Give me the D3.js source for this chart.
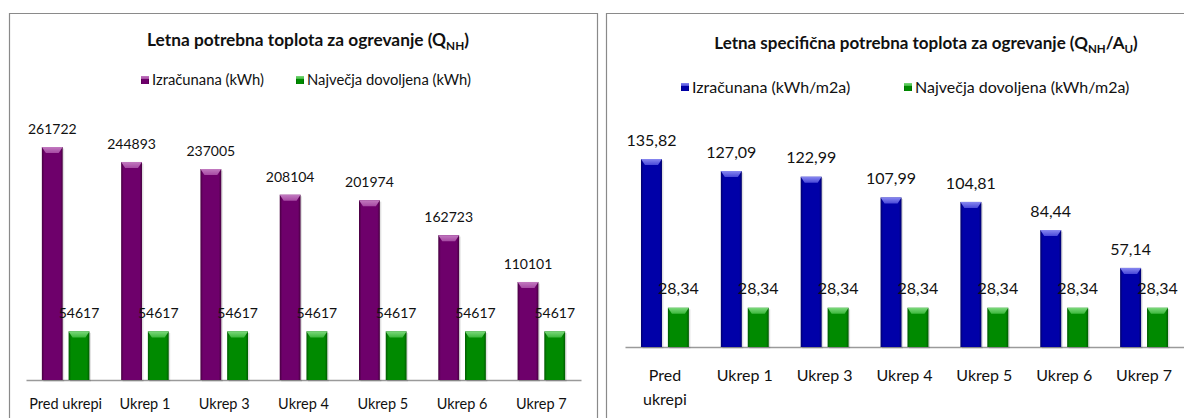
<!DOCTYPE html>
<html><head><meta charset="utf-8">
<script src="https://cdn.jsdelivr.net/npm/d3@7"></script>
<style>body{margin:0;background:#fff;} svg{display:block;font-family:Lato,'Open Sans',sans-serif;}</style>
</head><body><svg id="c" width="1184" height="418"></svg>
<script>
// ---- data ----
const categories = ["Pred ukrepi", "Ukrep 1", "Ukrep 3", "Ukrep 4", "Ukrep 5", "Ukrep 6", "Ukrep 7"];
const izracunanaKWh = [261722, 244893, 237005, 208104, 201974, 162723, 110101];
const najvecjaKWh = [54617, 54617, 54617, 54617, 54617, 54617, 54617];
const izracunanaSpec = [135.82, 127.09, 122.99, 107.99, 104.81, 84.44, 57.14];
const najvecjaSpec = [28.34, 28.34, 28.34, 28.34, 28.34, 28.34, 28.34];
const seriesNamesLeft = ["Izračunana (kWh)", "Največja dovoljena (kWh)"];
const seriesNamesRight = ["Izračunana (kWh/m2a)", "Največja dovoljena (kWh/m2a)"];

const svg = d3.select("#c");
const defs = svg.append("defs");

const palettes = {
  purple: {edge:"#46003f", mid:"#6e006b", bevel:"#a64aa3", bevelTop:"#c27ac0"},
  green:  {edge:"#005a00", mid:"#008a00", bevel:"#3cb83c", bevelTop:"#7cd87c"},
  blue:   {edge:"#00006a", mid:"#0000a8", bevel:"#4848d8", bevelTop:"#8888f0"}
};
Object.entries(palettes).forEach(([k,p])=>{
  const g = defs.append("linearGradient").attr("id","g-"+k).attr("x1",0).attr("x2",1).attr("y1",0).attr("y2",0);
  g.append("stop").attr("offset","0%").attr("stop-color",p.edge);
  g.append("stop").attr("offset","12%").attr("stop-color",p.mid);
  g.append("stop").attr("offset","88%").attr("stop-color",p.mid);
  g.append("stop").attr("offset","100%").attr("stop-color",p.edge);
  const b = defs.append("linearGradient").attr("id","b-"+k).attr("x1",0).attr("x2",0).attr("y1",0).attr("y2",1);
  b.append("stop").attr("offset","0%").attr("stop-color",p.bevelTop);
  b.append("stop").attr("offset","100%").attr("stop-color",p.bevel);
});

function fmtLeft(v){ return String(v); }
function fmtRight(v){ return v.toFixed(2).replace(".", ","); }

function drawPanel(cfg){
  const g = svg.append("g");
  // frame
  g.append("path").attr("d", cfg.frame).attr("fill","none").attr("stroke","#8a8a8a").attr("stroke-width",1.2);
  // title
  const t = g.append("text").attr("x",cfg.titleX).attr("y",cfg.titleY).attr("dy","0.35em").attr("text-anchor","middle")
    .attr("font-weight","bold").attr("font-size",cfg.titleSize).attr("fill","#111");
  cfg.titleParts.forEach(p=>{
    const ts = t.append("tspan").text(p.t);
    if(p.sub){ ts.attr("font-size",cfg.titleSize*0.68).attr("dy",4); }
    else if(p.after){ ts.attr("dy",-4); }
  });
  // legend
  const lg = g.append("g");
  cfg.legend.forEach((L,i)=>{
    lg.append("rect").attr("x",L.x).attr("y",cfg.legendY-4).attr("width",8).attr("height",8).attr("fill",`url(#g-${L.pal})`);
    lg.append("rect").attr("x",L.x).attr("y",cfg.legendY-4).attr("width",8).attr("height",3).attr("fill",`url(#b-${L.pal})`);
    lg.append("text").attr("x",L.x+11).attr("y",cfg.legendY).attr("dy","0.35em").attr("font-size",cfg.legendSize).attr("fill","#111").text(L.name);
  });
  // scales
  const x = d3.scaleBand().domain(categories).range(cfg.xRange);
  const xs = d3.scaleBand().domain([0,1]).range([x.bandwidth()*0.2, x.bandwidth()*0.8]).paddingInner(0.22);
  const y = d3.scaleLinear().domain(cfg.yDomain).range(cfg.yRange);
  // axis
  const ax = g.append("g").attr("transform",`translate(0,${cfg.yRange[0]})`).call(d3.axisBottom(x).tickSize(0).tickPadding(0));
  ax.select(".domain").attr("stroke","#9a9a9a").attr("stroke-width",1.3);
  ax.selectAll(".tick text").remove();
  // category labels
  categories.forEach(c=>{
    const lbl = g.append("text").attr("x",x(c)+x.bandwidth()/2).attr("y",cfg.catY).attr("text-anchor","middle")
      .attr("font-size",cfg.catSize).attr("fill","#111").attr("dy","0.35em").text(c);
    if(lbl.node().getComputedTextLength() > cfg.wrapWidth){
      const words = c.split(" ");
      lbl.text(null);
      words.forEach((w,i)=> lbl.append("tspan").attr("x",x(c)+x.bandwidth()/2).attr("dy", i===0?"0.35em":cfg.lineH).text(w));
    }
  });
  // bars
  cfg.series.forEach((s,si)=>{
    const bars = g.append("g");
    s.values.forEach((v,i)=>{
      const bx = x(categories[i]) + xs(si), bw = xs.bandwidth();
      const by = y(v), bh = y(0)-y(v);
      bars.append("rect").attr("x",bx+1.5).attr("y",by+1.5).attr("width",bw).attr("height",bh).attr("fill","#000").attr("opacity",0.12);
      bars.append("rect").attr("x",bx).attr("y",by).attr("width",bw).attr("height",bh).attr("fill",`url(#g-${s.pal})`);
      bars.append("path").attr("d",`M${bx},${by}L${bx+bw},${by}L${bx+bw-4},${by+6}L${bx+4},${by+6}Z`).attr("fill",`url(#b-${s.pal})`);
      g.append("text").attr("x",bx+bw/2).attr("y",by-cfg.labelOff).attr("text-anchor","middle").attr("dy","0.35em")
        .attr("font-size",cfg.valSize).attr("fill","#111").text(cfg.fmt(v));
    });
  });
}

drawPanel({
  frame:"M9.5,430V13.5H597.5V430",
  titleX:308, titleY:40, titleSize:17.3,
  titleParts:[{t:"Letna potrebna toplota za ogrevanje (Q"},{t:"NH",sub:true},{t:")",after:true}],
  legendY:80, legendSize:14.8,
  legend:[{x:141,pal:"purple",name:seriesNamesLeft[0]},{x:296,pal:"green",name:seriesNamesLeft[1]}],
  xRange:[26,581], yDomain:[0,300000], yRange:[380, 380-300000*233/261722],
  catY:404, catSize:14.5, wrapWidth:200, lineH:"1.55em",
  valSize:14, labelOff:18, fmt:fmtLeft,
  series:[{values:izracunanaKWh,pal:"purple"},{values:najvecjaKWh,pal:"green"}]
});
drawPanel({
  frame:"M606.5,430V13.5H1200",
  titleX:926, titleY:43, titleSize:17,
  titleParts:[{t:"Letna specifična potrebna toplota za ogrevanje (Q"},{t:"NH",sub:true},{t:"/A",after:true},{t:"U",sub:true},{t:")",after:true}],
  legendY:87, legendSize:16,
  legend:[{x:681,pal:"blue",name:seriesNamesRight[0]},{x:904,pal:"green",name:seriesNamesRight[1]}],
  xRange:[625,1184], yDomain:[0,160], yRange:[347, 347-160*188/135.82],
  catY:375, catSize:16, wrapWidth:70, lineH:"1.55em",
  valSize:16, labelOff:19, fmt:fmtRight,
  series:[{values:izracunanaSpec,pal:"blue"},{values:najvecjaSpec,pal:"green"}]
});
</script></body></html>
